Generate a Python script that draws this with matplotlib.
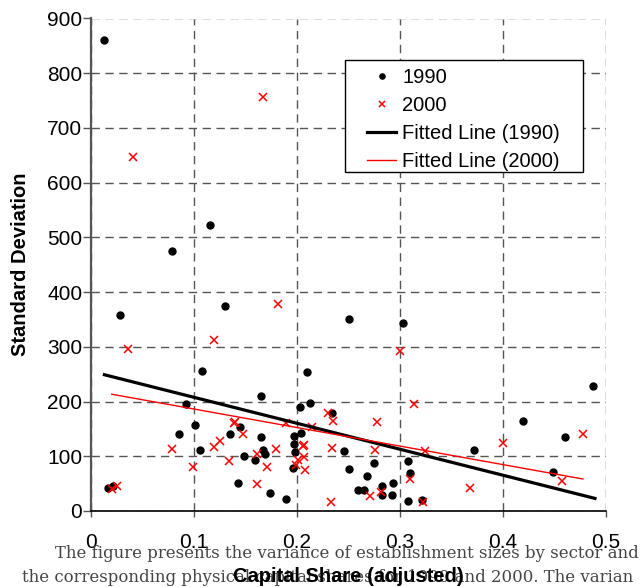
import matplotlib
matplotlib.use("Agg")
import matplotlib.pyplot as plt
from matplotlib.patches import Rectangle

# ---- data ----
x1990 = [0.013, 0.0162, 0.0217, 0.0279, 0.079, 0.0853, 0.0924, 0.1005, 0.1063, 0.1077,
         0.1155, 0.130, 0.1352, 0.143, 0.145, 0.1485, 0.159, 0.1647, 0.1647, 0.1667,
         0.169, 0.1735, 0.189, 0.1962, 0.1975, 0.1968, 0.1984, 0.2033, 0.204, 0.210,
         0.2124, 0.2344, 0.2456, 0.2503, 0.2507, 0.2595, 0.2652, 0.2675, 0.2746, 0.2821,
         0.2827, 0.2918, 0.2928, 0.3026, 0.3076, 0.310, 0.3077, 0.3213, 0.372, 0.4199,
         0.4481, 0.4606, 0.4874]
y1990 = [860, 42.6, 45, 358, 475, 141, 196, 158, 111, 255,
         522, 375, 141, 51, 154, 100, 93, 211, 135, 112,
         105, 33.5, 22.5, 78, 137, 122, 107, 190, 143, 254,
         198, 180, 109, 350.6, 77, 37.5, 37.5, 64, 88, 46,
         29, 28.6, 50.6, 343.5, 91.5, 69, 18, 21, 111.6, 163.7,
         70.7, 134.8, 229]

x2000 = [0.020, 0.025, 0.036, 0.0405, 0.0788, 0.0987, 0.1195, 0.1197, 0.1255, 0.134,
         0.1385, 0.1395, 0.1479, 0.1612, 0.1608, 0.167, 0.1709, 0.1796, 0.182, 0.1894,
         0.1991, 0.201, 0.2056, 0.2066, 0.2072, 0.2082, 0.2147, 0.230, 0.2346, 0.2344,
         0.2332, 0.2705, 0.2753, 0.278, 0.2811, 0.300, 0.3094, 0.3136, 0.3223, 0.3246,
         0.368, 0.3997, 0.4575, 0.4775]
y2000 = [40, 46.5, 296, 646, 114, 79.5, 117.5, 312.8, 128, 92,
         161.6, 163, 141, 105, 49.4, 757, 80, 113.4, 378, 160.4,
         84, 93, 119.5, 121.5, 98, 75, 153, 179.5, 164, 116,
         17, 27.4, 112, 162.5, 35, 291.5, 58.5, 195.5, 17, 110,
         42, 124, 55.4, 140.5]

fit1990_x = [0.013, 0.4893]
fit1990_y = [249, 23]
fit2000_x = [0.0201, 0.4776]
fit2000_y = [213.4, 58.5]

xticks = [0, 0.1, 0.2, 0.3, 0.4, 0.5]
xticklabels = ["0", "0.1", "0.2", "0.3", "0.4", "0.5"]
yticks = [0, 100, 200, 300, 400, 500, 600, 700, 800, 900]

caption1 = "The figure presents the variance of establishment sizes by sector and"
caption2 = "the corresponding physical capital shares for 1990 and 2000. The varian"

# ---- figure ----
W, H = 642, 587
fig = plt.figure(figsize=(W / 100, H / 100), dpi=100)
plt.rcParams['font.family'] = ['Liberation Sans', 'DejaVu Sans']

ax = fig.add_axes([91 / W, 1 - 511 / H, (606 - 91) / W, (511 - 18.5) / H])
ax.set_xlim(0, 0.5)
ax.set_ylim(0, 900)

ax.grid(True, color='#555555', linestyle=(0, (6, 4)), linewidth=1.0)
ax.set_axisbelow(True)

ax.plot(x1990, y1990, linestyle='none', marker='o', markersize=5,
        color='black', label='1990', zorder=3)
ax.plot(x2000, y2000, linestyle='none', marker='x', markersize=6,
        markeredgewidth=1.1, color='red', label='2000', zorder=3)
ax.plot(fit1990_x, fit1990_y, color='black', linewidth=2.3,
        label='Fitted Line (1990)', zorder=4)
ax.plot(fit2000_x, fit2000_y, color='red', linewidth=1.0,
        label='Fitted Line (2000)', zorder=4)

ax.set_xticks(xticks)
ax.set_xticklabels(xticklabels)
ax.set_yticks(yticks)
ax.tick_params(axis='x', direction='out', length=4.5, width=1, color='#555555',
               labelsize=15, pad=11)
ax.tick_params(axis='y', direction='out', length=5.8, width=1, color='#555555',
               labelsize=15, pad=0.5)

for s in ['top', 'right']:
    ax.spines[s].set_visible(False)
ax.spines['left'].set_color('#555555')
ax.spines['left'].set_linewidth(1.6)
ax.spines['bottom'].set_color('black')
ax.spines['bottom'].set_linewidth(1.2)

ax.set_ylabel('Standard Deviation', fontsize=14.5, fontweight='bold')
ax.yaxis.set_label_coords(-(91 - 30) / 515, 0.5)

# caption text (behind the x label)
fig.text(55 / W, 1 - 553 / H, caption1, family='DejaVu Serif', fontsize=11.9,
         color='#444444', ha='left', va='center')
fig.text(22 / W, 1 - 577 / H, caption2, family='DejaVu Serif', fontsize=11.9,
         color='#444444', ha='left', va='center')

fig.text(348.5 / W, 1 - 576 / H, 'Capital Share (adjusted)', fontsize=14.5,
         fontweight='bold', ha='center', va='center')

# legend with a hand-placed frame
frame = Rectangle((344.7 / W, 1 - 172.3 / H), (583.3 - 344.7) / W,
                  (172.3 - 60) / H, transform=fig.transFigure,
                  facecolor='white', edgecolor='black', linewidth=1.0,
                  zorder=6, clip_on=False)
ax.add_patch(frame)
leg = ax.legend(loc='upper left', bbox_to_anchor=(357 / W, 1 - 58 / H),
                bbox_transform=fig.transFigure, frameon=False, fontsize=14.5,
                borderpad=0, handlelength=1.45, handletextpad=0.3,
                labelspacing=0.45, markerscale=0.75)
leg.set_zorder(10)

fig.savefig('out.png', dpi=100)
